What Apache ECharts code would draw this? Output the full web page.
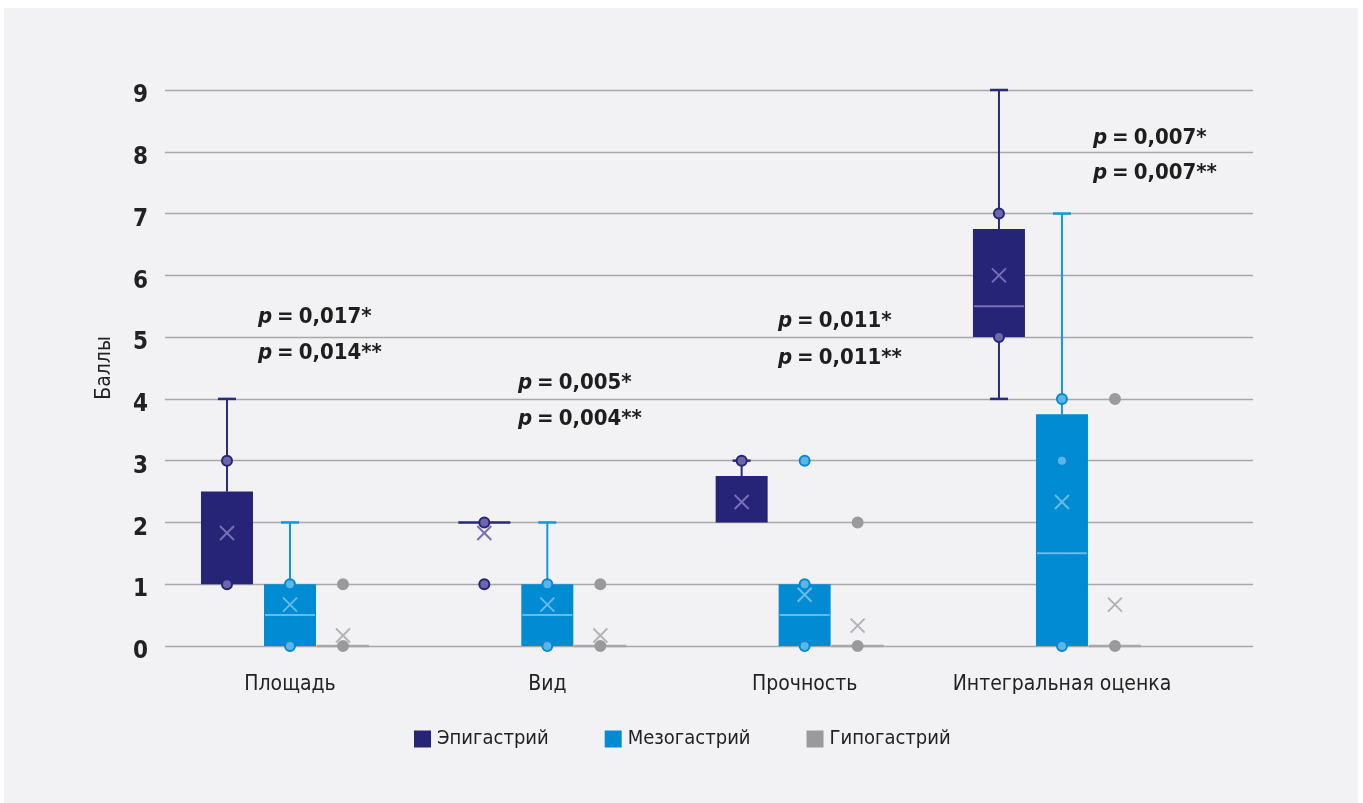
<!DOCTYPE html>
<html>
<head>
<meta charset="utf-8">
<script src="https://cdn.jsdelivr.net/npm/echarts@6/dist/echarts.min.js"></script>
<style>
html,body{margin:0;padding:0;background:#ffffff;}
#chart{width:1363px;height:803px;}
</style>
</head>
<body>
<div id="chart"></div>
<script>
// ---- data ----
var categories = ['Площадь', 'Вид', 'Прочность', 'Интегральная оценка'];
var seriesNames = ['Эпигастрий', 'Мезогастрий', 'Гипогастрий'];
var yTicks = [0, 1, 2, 3, 4, 5, 6, 7, 8, 9];
// [min, Q1, median, Q3, max]
var epiBox  = [[1, 1, 1, 2.5, 4], [2, 2, 2, 2, 2], [2, 2, 2, 2.75, 3], [4, 5, 5.5, 6.75, 9]];
var mesoBox = [[0, 0, 0.5, 1, 2], [0, 0, 0.5, 1, 2], [0, 0, 0.5, 1, 1], [0, 0, 1.5, 3.75, 7]];
var hypoBox = [[0, 0, 0, 0, 0], [0, 0, 0, 0, 0], [0, 0, 0, 0, 0], [0, 0, 0, 0, 0]];
var epiMean  = [1.83, 1.83, 2.33, 6];
var mesoMean = [0.67, 0.67, 0.83, 2.33];
var hypoMean = [0.17, 0.17, 0.33, 0.67];
var epiPoints  = [[3, 1], [2, 1], [3], [7, 5]];
var mesoPoints = [[1, 0], [1, 0], [3, 1, 0], [4, 3, 0]];
var hypoPoints = [[1, 0], [1, 0], [2, 0], [4, 0]];
var pLine1 = ['0,017*', '0,005*', '0,011*', '0,007*'];
var pLine2 = ['0,014**', '0,004**', '0,011**', '0,007**'];

// ---- styles ----
var FONT = '"Liberation Sans Narrow", "DejaVu Sans Condensed", "Roboto", sans-serif';
var styles = [
  {color: '#262477', whisker: '#2b2a7c', light: '#7670b4', pointFill: '#6c66aa', offset: -63, width: 52},
  {color: '#008bd2', whisker: '#1597da', light: '#67bbe8', pointFill: '#5db4e6', offset: 0, width: 52},
  {color: '#9a9a9c', whisker: '#a8a8aa', light: '#b3b3b5', pointFill: '#9a9a9c', offset: 53, width: 52}
];
var boxes = [epiBox, mesoBox, hypoBox];
var means = [epiMean, mesoMean, hypoMean];
var points = [epiPoints, mesoPoints, hypoPoints];

function boxRenderer(st) {
  return function (params, api) {
    var cat = api.value(0);
    var mn = api.value(1), q1 = api.value(2), md = api.value(3), q3 = api.value(4), mx = api.value(5), mean = api.value(6);
    var cx = api.coord([cat, 0])[0] + st.offset;
    var hw = st.width / 2;
    var y = function (v) { return api.coord([cat, v])[1]; };
    var ch = [];
    var capHw = 9;
    if (mx > q3) {
      ch.push({type: 'line', shape: {x1: cx, y1: y(q3), x2: cx, y2: y(mx)}, style: {stroke: st.whisker, lineWidth: 2}});
      ch.push({type: 'line', shape: {x1: cx - capHw, y1: y(mx), x2: cx + capHw, y2: y(mx)}, style: {stroke: st.whisker, lineWidth: 2.5}});
    }
    if (mn < q1) {
      ch.push({type: 'line', shape: {x1: cx, y1: y(q1), x2: cx, y2: y(mn)}, style: {stroke: st.whisker, lineWidth: 2}});
      ch.push({type: 'line', shape: {x1: cx - capHw, y1: y(mn), x2: cx + capHw, y2: y(mn)}, style: {stroke: st.whisker, lineWidth: 2.5}});
    }
    if (q3 > q1) {
      ch.push({type: 'rect', shape: {x: cx - hw, y: y(q3), width: st.width, height: y(q1) - y(q3)}, style: {fill: st.color}});
      if (md > q1 && md < q3) {
        ch.push({type: 'line', shape: {x1: cx - hw + 1, y1: y(md), x2: cx + hw - 1, y2: y(md)}, style: {stroke: st.light, lineWidth: 2}});
      }
    } else {
      ch.push({type: 'line', shape: {x1: cx - hw, y1: y(q1), x2: cx + hw, y2: y(q1)}, style: {stroke: st.whisker, lineWidth: 2.5}});
    }
    var my = y(mean), s = 7;
    ch.push({type: 'line', shape: {x1: cx - s, y1: my - s, x2: cx + s, y2: my + s}, style: {stroke: st.light, lineWidth: 2}, z2: 5});
    ch.push({type: 'line', shape: {x1: cx - s, y1: my + s, x2: cx + s, y2: my - s}, style: {stroke: st.light, lineWidth: 2}, z2: 5});
    return {type: 'group', children: ch};
  };
}
function pointRenderer(st) {
  return function (params, api) {
    var cat = api.value(0), v = api.value(1);
    var p = api.coord([cat, v]);
    return {type: 'circle', shape: {cx: p[0] + st.offset, cy: p[1], r: 5}, style: {fill: st.pointFill, stroke: st.color, lineWidth: 2}};
  };
}

var series = [];
for (var s = 0; s < 3; s++) {
  var bd = boxes[s].map(function (b, i) { return [i, b[0], b[1], b[2], b[3], b[4], means[s][i]]; });
  series.push({
    name: seriesNames[s], type: 'custom', xAxisIndex: 1, yAxisIndex: 1,
    itemStyle: {color: styles[s].color},
    renderItem: boxRenderer(styles[s]),
    encode: {x: 0, y: [1, 2, 3, 4, 5, 6]},
    data: bd, z: 3
  });
  var pd = [];
  points[s].forEach(function (arr, i) { arr.forEach(function (v) { pd.push([i, v]); }); });
  series.push({
    name: seriesNames[s], type: 'custom', xAxisIndex: 1, yAxisIndex: 1,
    itemStyle: {color: styles[s].color},
    renderItem: pointRenderer(styles[s]),
    encode: {x: 0, y: 1},
    data: pd, z: 4
  });
}

var pPos = [[258, 317, 353.5], [518, 383, 419], [778, 321, 358], [1093, 138, 173]];
var graphics = [{type: 'rect', left: 4, top: 8, shape: {width: 1354, height: 795}, style: {fill: '#f2f2f4'}, z: -10, silent: true}];
var rich = {
  i: {fontFamily: FONT, fontSize: 22, fontWeight: 'bold', fontStyle: 'italic', fill: '#1e1e1e'},
  n: {fontFamily: FONT, fontSize: 22, fontWeight: 'bold', fill: '#1e1e1e'}
};
for (var k = 0; k < 4; k++) {
  [pLine1[k], pLine2[k]].forEach(function (txt, j) {
    graphics.push({
      type: 'text', x: pPos[k][0], y: pPos[k][1 + j], z: 10,
      style: {text: '{i|p}{n|\u2005=\u2005' + txt + '}', rich: rich, verticalAlign: 'middle', align: 'left'}
    });
  });
}

var chart = echarts.init(document.getElementById('chart'), null, {renderer: 'canvas'});
chart.setOption({
  backgroundColor: '#ffffff',
  animation: false,
  graphic: graphics,
  legend: {
    data: seriesNames.map(function (n) { return {name: n, icon: 'rect'}; }),
    top: 729, left: 414, padding: 0, itemWidth: 17, itemHeight: 17, itemGap: 56,
    textStyle: {fontFamily: FONT, fontSize: 20, color: '#222222', padding: [0, 0, 0, 1]}
  },
  grid: [
    {left: 165, top: 90, width: 1088, height: 556, containLabel: false},
    {left: 161.33, top: 90, width: 1029.3, height: 556, containLabel: false}
  ],
  xAxis: [
    {type: 'value', gridIndex: 0, min: 0, max: 1, show: false},
    {type: 'category', gridIndex: 1, data: categories,
      axisLine: {show: false}, axisTick: {show: false},
      axisLabel: {interval: 0, margin: 28, fontFamily: FONT, fontSize: 21, color: '#222222'}}
  ],
  yAxis: [
    {type: 'value', gridIndex: 0, min: 0, max: 9, interval: 1,
      name: 'Баллы', nameLocation: 'middle', nameGap: 50, nameRotate: 90,
      nameTextStyle: {fontFamily: FONT, fontSize: 21, color: '#222222'},
      axisLine: {show: false}, axisTick: {show: false},
      axisLabel: {margin: 17, fontFamily: FONT, fontSize: 24, fontWeight: 'bold', color: '#222222',
        rich: {v: {fontFamily: FONT, fontSize: 24, fontWeight: 'bold', color: '#222222', padding: [12, 0, 0, 0]}},
        formatter: function (v) { return yTicks.indexOf(v) >= 0 ? '{v|' + v + '}' : ''; }},
      splitLine: {show: true, lineStyle: {color: '#a8a8aa', width: 1.3}}},
    {type: 'value', gridIndex: 1, min: 0, max: 9, interval: 1, show: false}
  ],
  series: series
});
</script>
</body>
</html>
